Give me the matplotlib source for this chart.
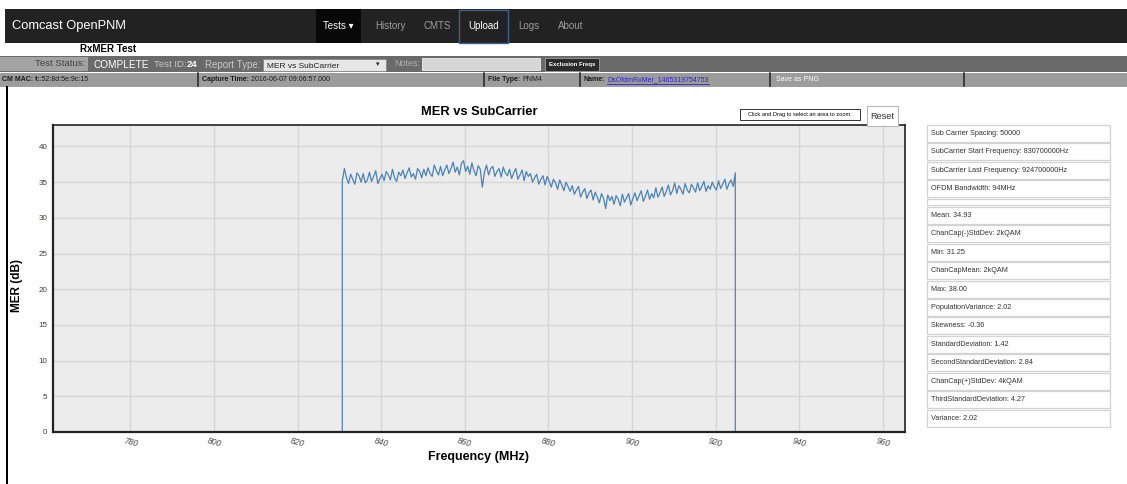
import numpy as np
import matplotlib
matplotlib.use("Agg")
import matplotlib.pyplot as plt
from matplotlib.patches import Rectangle
from matplotlib.lines import Line2D

plt.rcParams['font.family'] = ['Liberation Sans', 'DejaVu Sans']

# ---------------- data ----------------
START_MHZ = 830.7
STEP_MHZ = 0.5
END_MHZ = 924.7
mer_db = [
    35.2, 36.9, 35.6, 34.8, 36.1, 35.4, 34.7, 36.3, 35.9, 35.0,
    36.2, 34.9, 35.3, 36.4, 35.1, 35.8, 36.6, 34.8, 35.5, 36.1,
    35.2, 36.5, 36.0, 35.3, 36.8, 35.6, 35.1, 36.4, 35.9, 36.7,
    35.5, 36.3, 37.0, 35.7, 36.2, 35.4, 36.9, 36.5, 35.6, 36.8,
    35.9, 37.0, 36.2, 35.8, 37.4, 36.6, 36.0, 37.2, 35.9, 36.7,
    37.4, 36.2, 36.9, 37.8, 36.4, 37.1, 36.0, 37.6, 38.0, 36.5,
    37.2, 36.1, 37.7, 36.6, 35.9, 37.3, 36.8, 34.3, 36.4, 37.4,
    36.0, 36.9, 37.2, 35.8, 36.5, 36.9, 35.7, 37.1, 36.3, 35.9,
    36.8, 35.5, 36.3, 36.9, 35.4, 36.0, 36.7, 35.2, 36.5, 35.8,
    36.2, 35.0, 35.6, 36.1, 34.7, 35.4, 35.9, 34.6, 35.8, 35.1,
    34.3, 35.4, 34.9, 34.0, 35.3, 34.6, 33.8, 35.0, 34.4, 33.7,
    34.5, 33.3, 33.9, 34.4, 32.9, 33.6, 34.1, 32.7, 33.5, 33.9,
    32.5, 33.6, 32.9, 32.1, 33.4, 32.7, 31.3, 33.2, 32.4, 33.0,
    31.9, 33.1, 32.6, 31.7, 33.3, 32.2, 32.8, 33.4, 31.8, 32.7,
    33.5, 32.4, 33.1, 33.8, 32.3, 33.0, 33.9, 32.6, 33.4, 32.8,
    34.2, 32.9, 33.5, 34.3, 33.0, 33.7, 34.6, 33.2, 33.8, 34.9,
    33.4, 34.5, 34.0, 33.3, 34.8, 33.9, 33.5, 34.7, 34.2, 33.6,
    34.9, 33.8, 34.4, 35.1, 33.7, 34.5, 34.0, 35.0, 34.3, 33.9,
    35.2, 34.1, 34.7, 35.4, 34.0, 34.8, 35.3, 34.4, 36.3,
]
edge_db = 0.0
y_ticks = [0, 5, 10, 15, 20, 25, 30, 35, 40]
x_ticks = [780, 800, 820, 840, 860, 880, 900, 920, 940, 960]

nav_items = ["History", "CMTS", "Logs", "About"]
stats_rows = [
    "Sub Carrier Spacing: 50000",
    "SubCarrier Start Frequency: 830700000Hz",
    "SubCarrier Last Frequency: 924700000Hz",
    "OFDM Bandwidth: 94MHz",
    "",
    "Mean: 34.93",
    "ChanCap(-)StdDev: 2kQAM",
    "Min: 31.25",
    "ChanCapMean: 2kQAM",
    "Max: 38.00",
    "PopulationVariance: 2.02",
    "Skewness: -0.36",
    "StandardDeviation: 1.42",
    "SecondStandardDeviation: 2.84",
    "ChanCap(+)StdDev: 4kQAM",
    "ThirdStandardDeviation: 4.27",
    "Variance: 2.02",
]

# ---------------- figure ----------------
W, H = 1127, 484
fig = plt.figure(figsize=(W / 100, H / 100), dpi=100, facecolor='white')
renderer = fig.canvas.get_renderer()


def fx(x):
    return x / W


def fy(y):
    return 1 - y / H


def rect(x0, y0, x1, y1, fc, ec='none', lw=0, z=1):
    fig.add_artist(Rectangle((fx(x0), fy(y1)), (x1 - x0) / W, (y1 - y0) / H,
                             transform=fig.transFigure, fc=fc, ec=ec, lw=lw, zorder=z))


def text(x, y, s, size=6, color='black', ha='left', weight='normal', **kw):
    return fig.text(fx(x), fy(y), s, fontsize=size, color=color, ha=ha, va='center',
                    fontweight=weight, zorder=5, **kw)


def right_of(t, gap=1):
    return t.get_window_extent(renderer).x1 + gap


def label_value(x, y, lab, val, size=5, lab_color='#1a1a1a', val_color='#1a1a1a', underline=False):
    t = text(x, y, lab, size=size, color=lab_color, weight='bold')
    t2 = text(right_of(t, 2), y, val, size=size, color=val_color)
    if underline:
        bb2 = t2.get_window_extent(renderer)
        fig.add_artist(Line2D([fx(bb2.x0), fx(bb2.x1)], [fy(y + 4), fy(y + 4)],
                              transform=fig.transFigure, color=val_color, lw=0.6, zorder=5))


# nav bar
rect(5, 9, W, 43, '#222222')
text(12, 26, "Comcast OpenPNM", size=9.3, color='white')
rect(316, 9, 361, 43, '#080808')
text(338, 26, "Tests \u25BE", size=7, color='white', ha='center')
rect(459, 9.5, 508, 42.5, '#222222', ec='#3c5f95', lw=1, z=2)
text(483.5, 26, "Upload", size=7, color='white', ha='center')
for s, xx in zip(nav_items, [375, 424, 518, 558]):
    text(xx, 26, s, size=7, color='#9d9d9d')

# title row
text(80, 49, "RxMER Test", size=7, weight='bold')

# status row
rect(0, 56, W, 72, '#6a6a6a')
rect(0, 57, 88, 71, '#a3a3a3')
text(85, 64, "Test Status:", size=6.8, color='#404040', ha='right')
text(93, 64.5, "COMPLETE", size=7.2, color='white')
t_id = text(154, 64.5, "Test ID:", size=6.8, color='#c9c9c9')
text(right_of(t_id, 0.5), 64.5, "24", size=6.8, color='white', weight='bold')
text(205, 64.5, "Report Type:", size=7, color='#c9c9c9')
rect(263, 59, 386, 71, '#e6e6e6', ec='#8a8a8a', lw=0.6, z=2)
text(267, 66, "MER vs SubCarrier", size=6, color='#222222')
text(378, 65, "\u25BE", size=5, color='#222222', ha='center')
text(394, 63, "Notes:", size=6.5, color='#b0b0b0')
rect(422, 58, 540, 70, '#d6d6d6', ec='#eeeeee', lw=0.6, z=2)
rect(545, 58, 599, 71, '#2b2b2b', ec='#a0a0a0', lw=0.6, z=2)
text(572, 64.5, "Exclusion Freqs", size=4.3, color='white', ha='center', weight='bold')

# info row
rect(0, 73, W, 86, '#9c9c9c', ec='#8a8a8a', lw=0.5)
for xx in [198, 484, 580, 770, 964]:
    fig.add_artist(Line2D([fx(xx), fx(xx)], [fy(73), fy(86)], transform=fig.transFigure,
                          color='#222222', lw=1.1, zorder=3))
label_value(2, 79.5, "CM MAC:", "fc:52:8d:5e:9c:15")
label_value(202, 79.5, "Capture Time:", "2016-06-07 09:06:57.000")
label_value(488, 79.5, "File Type:", "PNM4")
label_value(584, 79.5, "Name:", "DsOfdmRxMer_1465319754753", val_color='#2a22c8', underline=True)
text(776, 79.5, "Save as PNG", size=5, color='white')

# left page border
rect(5.5, 86, 8, H, 'black', z=4)

# chart header
text(479, 112, "MER vs SubCarrier", size=9.3, weight='bold', ha='center')
rect(740, 109, 860, 120, 'white', ec='#333333', lw=0.7, z=2)
text(800, 114.5, "Click and Drag to select an area to zoom.", size=4.1, ha='center')
rect(867, 106, 898, 126, 'white', ec='#b8b8b8', lw=0.8, z=2)
text(882.5, 116.5, "Reset", size=6.6, color='#333333', ha='center')

# axes
ax = fig.add_axes([fx(53), fy(432), (905 - 53) / W, (432 - 125) / H])
ax.set_facecolor('#ececec')
n = len(mer_db)
freqs = np.concatenate([[START_MHZ], START_MHZ + STEP_MHZ * np.arange(n), [END_MHZ]])
vals = np.concatenate([[edge_db], mer_db, [edge_db]])
ax.plot(freqs, vals, color='#4a83b8', lw=0.9)
ax.set_xlim(761.5, 965.3)
ax.set_ylim(0, 43)
ax.set_xticks(x_ticks)
ax.set_yticks(y_ticks)
ax.set_xticklabels([str(v) for v in x_ticks], rotation=-15, fontsize=6.2, color='#4a4a4a',
                   style='italic', ha='center')
ax.set_yticklabels([str(v) for v in y_ticks], fontsize=5.8, color='#4a3a3a')
ax.tick_params(length=0, pad=4)
ax.tick_params(axis='x', pad=3)
ax.grid(True, color='#d6d6d6', lw=1)
ax.set_axisbelow(True)
for sp in ax.spines.values():
    sp.set_color('#222222')
    sp.set_linewidth(1.2)
ax.spines['left'].set_linewidth(1.6)
ax.spines['bottom'].set_linewidth(1.6)

text(17, 285, "MER (dB)", size=8.5, weight='bold', rotation=90, ha='center')
text(479, 457, "Frequency (MHz)", size=9, weight='bold', ha='center')

# stats table
top = 125
for s in stats_rows:
    h = 6 if s == "" else 17
    rect(927, top, 1110, top + h, 'white', ec='#d3d3d3', lw=0.9)
    if s:
        text(931, top + h / 2, s, size=5.2, color='#333333')
    top += h + (2 if s == "" else 1.45)

fig.savefig("out.png", dpi=100, facecolor='white')
